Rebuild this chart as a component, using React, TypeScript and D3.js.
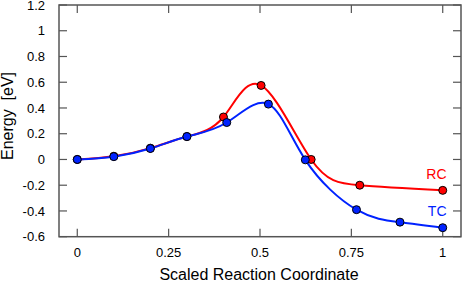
import React, { useEffect, useRef } from 'react';
import * as d3 from 'd3';

// Reaction coordinate / energy (eV)
const rcX = [0, 0.1, 0.2, 0.3, 0.4, 0.503, 0.64, 0.773, 1];
const rcY = [0, 0.025, 0.088, 0.178, 0.33, 0.575, 0.0, -0.2, -0.24];
const tcX = [0, 0.1, 0.2, 0.3, 0.409, 0.523, 0.624, 0.764, 0.883, 1];
const tcY = [0, 0.022, 0.085, 0.178, 0.287, 0.43, -0.003, -0.39, -0.487, -0.53];

const xTicks = [0, 0.25, 0.5, 0.75, 1];
const xTickLabels = ['0', '0.25', '0.5', '0.75', '1'];
const yTicks = [-0.6, -0.4, -0.2, 0, 0.2, 0.4, 0.6, 0.8, 1, 1.2];

const W = 463;
const H = 281;
const FONT = 'Liberation Sans, Arial, Helvetica, sans-serif';

export default function App() {
  const ref = useRef<SVGSVGElement>(null);

  useEffect(() => {
    if (!ref.current) return;
    const svg = d3.select(ref.current);
    svg.selectAll('*').remove();

    const left = 59, right = 461, top = 5, bottom = 236.7;
    const x = d3.scaleLinear().domain([-0.05, 1.05]).range([left, right]);
    const y = d3.scaleLinear().domain([-0.6, 1.2]).range([bottom, top]);
    const frame = '#555';
    const tickLen = 8;

    // frame
    svg.append('rect')
      .attr('x', left).attr('y', top)
      .attr('width', right - left).attr('height', bottom - top)
      .attr('fill', 'none').attr('stroke', frame).attr('stroke-width', 1.5);

    // x ticks (bottom + mirrored top)
    xTicks.forEach((t, i) => {
      svg.append('line').attr('x1', x(t)).attr('x2', x(t))
        .attr('y1', bottom).attr('y2', bottom - tickLen)
        .attr('stroke', frame).attr('stroke-width', 1.2);
      svg.append('line').attr('x1', x(t)).attr('x2', x(t))
        .attr('y1', top).attr('y2', top + tickLen)
        .attr('stroke', frame).attr('stroke-width', 1.2);
      svg.append('text').attr('x', x(t)).attr('y', 257)
        .attr('text-anchor', 'middle').attr('font-family', FONT).attr('font-size', 13)
        .attr('fill', '#000').text(xTickLabels[i]);
    });

    // y ticks (left + mirrored right)
    yTicks.forEach((t) => {
      svg.append('line').attr('x1', left).attr('x2', left + tickLen)
        .attr('y1', y(t)).attr('y2', y(t))
        .attr('stroke', frame).attr('stroke-width', 1.2);
      svg.append('line').attr('x1', right).attr('x2', right - tickLen)
        .attr('y1', y(t)).attr('y2', y(t))
        .attr('stroke', frame).attr('stroke-width', 1.2);
      svg.append('text').attr('x', 45).attr('y', y(t)).attr('dy', '0.36em')
        .attr('text-anchor', 'end').attr('font-family', FONT).attr('font-size', 13)
        .attr('fill', '#000').text(String(t));
    });

    // axis titles
    svg.append('text').attr('x', 259).attr('y', 280)
      .attr('text-anchor', 'middle').attr('font-family', FONT).attr('font-size', 16)
      .text('Scaled Reaction Coordinate');
    svg.append('text').attr('transform', 'translate(12.5,116) rotate(-90)')
      .attr('text-anchor', 'middle').attr('font-family', FONT).attr('font-size', 16)
      .attr('xml:space', 'preserve').style('white-space', 'pre')
      .text('Energy  [eV]');

    const line = d3.line<[number, number]>()
      .x((d) => x(d[0])).y((d) => y(d[1]))
      .curve(d3.curveNatural);

    const series = [
      { xs: rcX, ys: rcY, color: '#ff0000', label: 'RC', ly: 179 },
      { xs: tcX, ys: tcY, color: '#0022ff', label: 'TC', ly: 216 },
    ];

    series.forEach((s) => {
      const pts = s.xs.map((v, i) => [v, s.ys[i]] as [number, number]);
      svg.append('path').attr('d', line(pts)!)
        .attr('fill', 'none').attr('stroke', s.color).attr('stroke-width', 2);
      svg.append('g').selectAll('circle').data(pts).enter().append('circle')
        .attr('cx', (d) => x(d[0])).attr('cy', (d) => y(d[1])).attr('r', 4)
        .attr('fill', s.color).attr('stroke', '#000').attr('stroke-width', 1);
      svg.append('text').attr('x', 446.5).attr('y', s.ly)
        .attr('text-anchor', 'end').attr('font-family', FONT).attr('font-size', 14)
        .attr('fill', s.color).text(s.label);
    });
  }, []);

  return (
    <svg ref={ref} width={W} height={H} style={{ position: 'absolute', left: 0, top: 0, background: '#fff' }} />
  );
}
